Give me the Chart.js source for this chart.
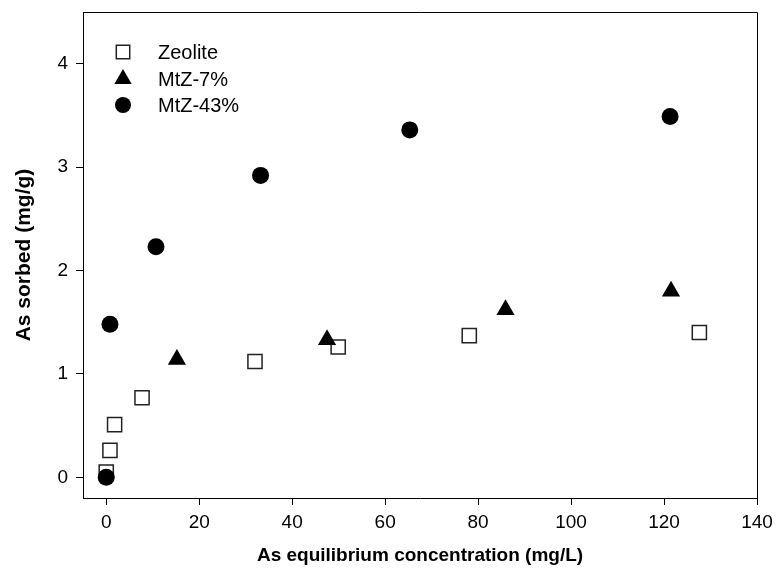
<!DOCTYPE html>
<html>
<head>
<meta charset="utf-8">
<script src="https://cdn.jsdelivr.net/npm/chart.js@4/dist/chart.umd.min.js"></script>
<style>
  html, body { margin: 0; padding: 0; background: #ffffff; }
  #wrap { width: 778px; height: 581px; position: relative; }
</style>
</head>
<body>
<div id="wrap"><canvas id="c" width="778" height="581"></canvas></div>
<script>
// ---- Data ----
const seriesNames = ["Zeolite", "MtZ-7%", "MtZ-43%"];
const zeoliteX = [0, 0.8, 1.8, 7.7, 32.0, 49.9, 78.1, 127.6];
const zeoliteY = [0.05, 0.26, 0.51, 0.77, 1.12, 1.26, 1.37, 1.40];
const mtz7X = [15.2, 47.5, 85.9, 121.5];
const mtz7Y = [1.14, 1.33, 1.62, 1.80];
const mtz43X = [0, 0.8, 10.7, 33.2, 65.3, 121.3];
const mtz43Y = [0, 1.48, 2.23, 2.92, 3.36, 3.49];
const xTicks = [0, 20, 40, 60, 80, 100, 120, 140];
const yTicks = [0, 1, 2, 3, 4];
const xTitle = "As equilibrium concentration (mg/L)";
const yTitle = "As sorbed (mg/g)";

const pts = (xs, ys) => xs.map((x, i) => ({ x: x, y: ys[i] }));
const FONT = "'Liberation Sans', Arial, sans-serif";

const boxPlugin = {
  id: 'boxAndLegend',
  afterDraw(chart) {
    const { ctx, chartArea: a } = chart;
    ctx.save();
    ctx.strokeStyle = '#000';
    ctx.lineWidth = 1;
    ctx.beginPath();
    ctx.moveTo(a.left, a.top + 0.5);
    ctx.lineTo(a.right + 0.5, a.top + 0.5);
    ctx.lineTo(a.right + 0.5, a.bottom);
    ctx.stroke();
    // legend inside plot
    const rows = [52, 79, 105];
    const symX = 123, textX = 158;
    chart.data.datasets.forEach((ds, i) => {
      const y = rows[i];
      ctx.fillStyle = ds.backgroundColor;
      ctx.strokeStyle = ds.borderColor;
      ctx.lineWidth = ds.borderWidth;
      Chart.helpers.drawPoint(ctx, {
        pointStyle: ds.pointStyle,
        radius: ds.pointStyle === 'rect' ? 9.5 : (ds.pointStyle === 'triangle' ? 10 : 8),
        borderWidth: ds.borderWidth,
        rotation: 0
      }, symX, y);
      ctx.fillStyle = '#000';
      ctx.font = '20px ' + FONT;
      ctx.textBaseline = 'middle';
      ctx.textAlign = 'left';
      ctx.fillText(ds.label, textX, y + 1);
    });
    ctx.restore();
  }
};

new Chart(document.getElementById('c'), {
  type: 'scatter',
  data: {
    datasets: [
      { label: seriesNames[0], data: pts(zeoliteX, zeoliteY), pointStyle: 'rect', pointRadius: 10, pointHoverRadius: 10,
        backgroundColor: '#ffffff', borderColor: '#222222', borderWidth: 1.5, order: 3 },
      { label: seriesNames[1], data: pts(mtz7X, mtz7Y), pointStyle: 'triangle', pointRadius: 10.5, pointHoverRadius: 10.5,
        backgroundColor: '#000000', borderColor: '#000000', borderWidth: 0, order: 2 },
      { label: seriesNames[2], data: pts(mtz43X, mtz43Y), pointStyle: 'circle', pointRadius: 8.5, pointHoverRadius: 8.5,
        backgroundColor: '#000000', borderColor: '#000000', borderWidth: 0, order: 1 }
    ]
  },
  options: {
    responsive: false,
    animation: false,
    devicePixelRatio: 1,
    layout: { padding: { top: 12, right: 21, left: 0, bottom: 0 } },
    plugins: { legend: { display: false }, tooltip: { enabled: false } },
    scales: {
      x: {
        type: 'linear', min: -5, max: 140,
        afterFit(s) { s.height = 83; s.paddingLeft = 0; s.paddingRight = 0; },
        afterBuildTicks(s) { s.ticks = xTicks.map(v => ({ value: v })); },
        grid: { drawOnChartArea: false, drawTicks: true, tickLength: 7, color: '#000', tickColor: '#000' },
        border: { display: true, color: '#000', width: 1 },
        ticks: { color: '#000', font: { family: FONT, size: 19 }, padding: 6, maxRotation: 0 },
        title: { display: true, text: xTitle, color: '#000', font: { family: FONT, size: 19, weight: 'bold' }, padding: { top: 0, bottom: 14 } }
      },
      y: {
        type: 'linear', min: -0.2, max: 4.5,
        afterFit(s) { s.width = 83; s.paddingTop = 0; s.paddingBottom = 0; },
        afterBuildTicks(s) { s.ticks = yTicks.map(v => ({ value: v })); },
        grid: { drawOnChartArea: false, drawTicks: true, tickLength: 7, color: '#000', tickColor: '#000' },
        border: { display: true, color: '#000', width: 1 },
        ticks: { color: '#000', font: { family: FONT, size: 19 }, padding: 8 },
        title: { display: true, text: yTitle, color: '#000', font: { family: FONT, size: 21, weight: 'bold' }, padding: { top: 12, bottom: 0 } }
      }
    }
  },
  plugins: [boxPlugin]
});
</script>
</body>
</html>
